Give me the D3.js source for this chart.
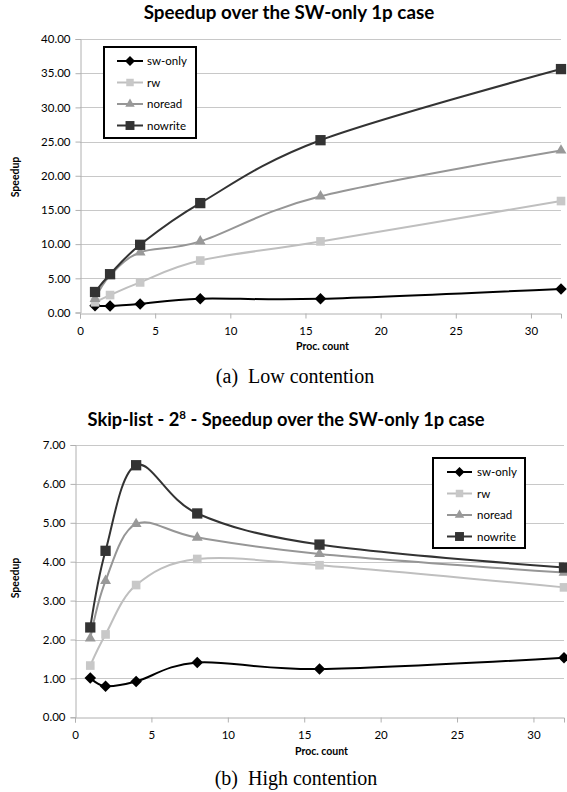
<!DOCTYPE html>
<html><head><meta charset="utf-8">
<script src="https://cdn.jsdelivr.net/npm/d3@7"></script>
<style>
html,body{margin:0;padding:0;background:#fff;}
svg{display:block;}
</style></head>
<body>
<svg id="chart" width="567" height="792"></svg>
<script>
// ---- data ----
const procCounts = [1, 2, 4, 8, 16, 32];
const seriesNames = ["sw-only", "rw", "noread", "nowrite"];
const xTicks = [0, 5, 10, 15, 20, 25, 30];

const lowYTicks = [0, 5, 10, 15, 20, 25, 30, 35, 40];
const lowSwOnly  = [1.00, 0.95, 1.25, 2.02, 2.00, 3.45];
const lowRw      = [1.50, 2.55, 4.40, 7.60, 10.40, 16.30];
const lowNoread  = [2.00, 5.40, 8.80, 10.40, 17.00, 23.70];
const lowNowrite = [3.00, 5.60, 9.90, 16.00, 25.20, 35.60];

const highYTicks = [0, 1, 2, 3, 4, 5, 6, 7];
const highSwOnly  = [1.01, 0.80, 0.92, 1.41, 1.24, 1.53];
const highRw      = [1.33, 2.13, 3.40, 4.07, 3.91, 3.34];
const highNoread  = [2.03, 3.51, 4.97, 4.62, 4.20, 3.72];
const highNowrite = [2.31, 4.28, 6.48, 5.24, 4.44, 3.85];

// ---- styles ----
const colors = {"sw-only": "#000000", "rw": "#bfbfbf", "noread": "#969696", "nowrite": "#333333"};
const markerColors = {"sw-only": "#000000", "rw": "#c8c8c8", "noread": "#999999", "nowrite": "#333333"};
const symbols = {"sw-only": d3.symbolDiamond2, "rw": d3.symbolSquare2, "noread": d3.symbolTriangle2, "nowrite": d3.symbolSquare2};
const symSizes = {"sw-only": 85, "rw": 95, "noread": 85, "nowrite": 135};
const FONT = "Lato, 'Noto Sans', sans-serif";

const svg = d3.select("#chart");

function markerPath(name, size) {
  const t = symbols[name];
  return d3.symbol().type(t).size(size || symSizes[name])();
}

function drawChart(cfg) {
  const g = svg.append("g");
  const x = d3.scaleLinear().domain([0, 32]).range([cfg.left, cfg.right]);
  const y = d3.scaleLinear().domain([0, cfg.yMax]).range([cfg.bottom, cfg.top]);

  // title
  const title = g.append("text").attr("x", cfg.titleX).attr("y", cfg.titleY)
    .attr("text-anchor", "middle").attr("font-family", FONT).attr("font-weight", "bold")
    .attr("font-size", cfg.titleSize).attr("fill", "#000");
  cfg.titleParts.forEach(p => {
    const ts = title.append("tspan").text(p.t);
    if (p.sup) ts.attr("dy", -7).attr("font-size", 11.5);
    if (p.after) ts.attr("dy", 7);
  });

  // gridlines
  g.append("g").selectAll("line").data(cfg.yTicks.filter(d => d > 0)).join("line")
    .attr("x1", cfg.left).attr("x2", cfg.right)
    .attr("y1", d => Math.round(y(d)) + 0.5).attr("y2", d => Math.round(y(d)) + 0.5)
    .attr("stroke", "#c8c8c8").attr("stroke-width", 1);

  // y axis
  const yAxis = d3.axisLeft(y).tickValues(cfg.yTicks).tickFormat(d3.format(".2f")).tickSize(5).tickPadding(5);
  const ya = g.append("g").attr("transform", `translate(${cfg.left + 0.5},0)`).call(yAxis);
  ya.select(".domain").attr("stroke", "#b0b0b0");
  ya.selectAll(".tick line").attr("stroke", "#b0b0b0");
  ya.selectAll("text").attr("font-family", FONT).attr("font-size", 11.5).attr("fill", "#000");

  // x axis
  const xAxis = d3.axisBottom(x).tickValues(xTicks).tickSize(5).tickPadding(8);
  const xa = g.append("g").attr("transform", `translate(0,${Math.round(cfg.bottom) + 0.5})`).call(xAxis);
  xa.select(".domain").attr("stroke", "#b0b0b0");
  xa.selectAll(".tick line").attr("stroke", "#b0b0b0");
  xa.selectAll("text").attr("font-family", FONT).attr("font-size", 11.5).attr("fill", "#000");

  // axis titles
  g.append("text").attr("x", (cfg.left + cfg.right) / 2 + 2).attr("y", cfg.xTitleY)
    .attr("text-anchor", "middle").attr("font-family", FONT).attr("font-weight", "bold")
    .attr("font-size", 10.5).text("Proc. count");
  g.append("text").attr("transform", `translate(${cfg.yTitleX},${cfg.yTitleY}) rotate(-90)`)
    .attr("text-anchor", "middle").attr("font-family", FONT).attr("font-weight", "bold")
    .attr("font-size", 10.5).text("Speedup");

  // caption
  g.append("text").attr("x", cfg.capX).attr("y", cfg.capY).attr("text-anchor", "middle")
    .attr("font-family", "'Liberation Serif', 'Times New Roman', serif").attr("font-size", 20)
    .attr("xml:space", "preserve").text(cfg.caption);

  // lines
  const line = d3.line().x((d, i) => x(procCounts[i])).y(d => y(d)).curve(d3.curveCatmullRom.alpha(0));
  cfg.series.forEach((vals, si) => {
    const name = seriesNames[si];
    g.append("path").attr("d", line(vals)).attr("fill", "none")
      .attr("stroke", colors[name]).attr("stroke-width", 2);
  });
  cfg.series.forEach((vals, si) => {
    const name = seriesNames[si];
    g.append("g").selectAll("path").data(vals).join("path")
      .attr("d", markerPath(name))
      .attr("transform", (d, i) => `translate(${x(procCounts[i])},${y(d)})`)
      .attr("fill", markerColors[name]);
  });

  // legend
  const lg = g.append("g");
  lg.append("rect").attr("x", cfg.leg.x).attr("y", cfg.leg.y).attr("width", cfg.leg.w).attr("height", cfg.leg.h)
    .attr("fill", "#fff").attr("stroke", "#000").attr("stroke-width", 2);
  seriesNames.forEach((name, i) => {
    const yy = cfg.leg.y + 14 + i * 21.5;
    lg.append("line").attr("x1", cfg.leg.lx1).attr("x2", cfg.leg.lx2).attr("y1", yy).attr("y2", yy)
      .attr("stroke", colors[name]).attr("stroke-width", 2);
    lg.append("path").attr("d", markerPath(name, symSizes[name] * 0.75))
      .attr("transform", `translate(${(cfg.leg.lx1 + cfg.leg.lx2) / 2},${yy})`).attr("fill", markerColors[name]);
    lg.append("text").attr("x", cfg.leg.tx).attr("y", yy).attr("dy", "0.35em")
      .attr("font-family", FONT).attr("font-size", 11.5).text(name);
  });
}

drawChart({
  left: 80, right: 561, top: 39, bottom: 312.5, yMax: 40, yTicks: lowYTicks,
  series: [lowSwOnly, lowRw, lowNoread, lowNowrite],
  titleParts: [{t: "Speedup over the SW-only 1p case"}], titleX: 289, titleY: 19, titleSize: 18.8,
  xTitleY: 350, yTitleX: 19, yTitleY: 177,
  caption: "(a)  Low contention", capX: 295, capY: 383,
  leg: {x: 104, y: 47, w: 92, h: 91, lx1: 117, lx2: 143, tx: 147}
});

drawChart({
  left: 75, right: 564, top: 445, bottom: 717.3, yMax: 7, yTicks: highYTicks,
  series: [highSwOnly, highRw, highNoread, highNowrite],
  titleParts: [{t: "Skip-list - 2"}, {t: "8", sup: true}, {t: " - Speedup over the SW-only 1p case", after: true}],
  titleX: 286, titleY: 426, titleSize: 18.3,
  xTitleY: 755, yTitleX: 19, yTitleY: 578,
  caption: "(b)  High contention", capX: 296, capY: 785,
  leg: {x: 433, y: 458, w: 92, h: 90, lx1: 447, lx2: 472, tx: 477}
});
</script>
</body></html>
